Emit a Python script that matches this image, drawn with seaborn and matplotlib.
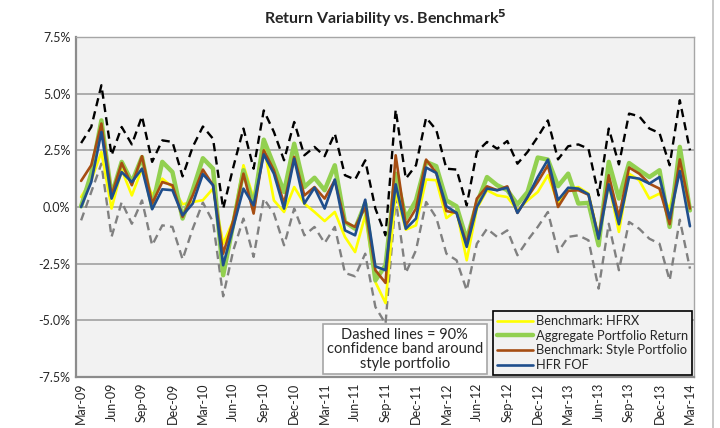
import matplotlib
matplotlib.use('Agg')
import matplotlib.pyplot as plt
from matplotlib.lines import Line2D
import pandas as pd
import seaborn as sns

# monthly returns in %, Mar-09 .. Mar-14
months = pd.date_range('2009-03-01', periods=61, freq='MS')

hfrx = [0.44, 1.18, 2.43, -0.07, 1.65, 0.51, 1.69, 0.51, 1.25, 0.88, 0.12, 0.22, 0.30, 0.81, -1.62, -0.59,
        1.84, 0.37, 2.72, 0.29, -0.22, 0.88, 0.15, -0.22, -0.62, -0.22, -1.32, -1.99, -0.37, -3.31, -4.24, 0.66,
        -1.00, -0.81, 1.21, 1.18, -0.49, -0.15, -2.35, -0.07, 0.74, 0.51, 0.44, -0.15, 0.29, 0.66, 1.40, 0.18,
        0.81, 0.88, 0.59, -1.32, 1.03, -1.10, 1.47, 1.18, 0.37, 0.59, -0.07, 1.91, -0.07]
aggregate = [0.03, 1.47, 3.82, 0.51, 1.99, 1.10, 2.20, 0.00, 1.99, 1.54, -0.51, 0.74, 2.15, 1.69, -3.01, -0.74,
             1.62, 0.07, 2.97, 1.84, 0.66, 2.79, 0.88, 1.29, 0.74, 1.84, -0.66, -0.96, 0.15, -3.24, -2.57, 1.47,
             -0.51, 0.29, 1.99, 1.80, 0.29, 0.03, -1.44, 0.15, 1.32, 0.96, 0.74, 0.12, 0.66, 2.18, 2.09, 0.92,
             1.47, 0.15, 0.18, -1.69, 1.99, 0.37, 1.94, 1.62, 1.32, 1.62, -0.88, 2.65, -0.15]
style = [1.15, 1.84, 3.68, 0.51, 1.94, 0.96, 2.24, 0.15, 1.10, 0.96, -0.44, 0.51, 1.65, 0.96, -2.06, -0.59,
         1.47, -0.29, 2.50, 1.62, 0.15, 2.21, 0.51, 0.88, 0.37, 1.18, -0.66, -0.88, 0.00, -2.79, -3.35, 2.28,
         -0.81, -0.07, 2.09, 1.50, -0.18, -0.26, -1.62, 0.37, 0.91, 0.74, 0.91, -0.26, 0.44, 1.10, 1.84, 0.00,
         0.71, 0.74, 0.54, -1.35, 1.40, -0.44, 1.74, 1.47, 1.03, 0.81, -0.76, 2.10, -0.07]
hfr_fof = [0.00, 1.10, 3.31, 0.37, 1.54, 1.10, 1.69, -0.10, 0.78, 0.74, -0.37, 0.15, 1.45, 0.96, -2.57, -0.88,
           0.81, 0.07, 2.32, 1.47, -0.07, 2.13, 0.15, 0.85, -0.07, 1.21, -1.03, -1.25, 0.32, -2.62, -2.79, 1.00,
           -0.96, -0.51, 1.74, 1.50, 0.03, -0.26, -1.76, 0.00, 0.81, 0.74, 0.85, -0.26, 0.44, 1.32, 2.09, 0.30,
           0.85, 0.81, 0.56, -1.40, 1.00, -0.76, 1.32, 1.25, 1.03, 1.32, -0.51, 1.59, -0.85]
band_upper = [2.82, 3.53, 5.37, 2.28, 3.53, 2.76, 4.00, 1.99, 2.94, 2.87, 1.35, 2.65, 3.55, 3.01, -0.07, 1.76,
              3.46, 1.69, 4.26, 3.31, 2.06, 3.75, 2.28, 2.65, 2.24, 3.24, 1.40, 1.21, 2.06, -0.07, -1.25, 4.29,
              1.25, 1.84, 3.94, 3.40, 1.69, 1.65, 0.07, 2.43, 2.87, 2.57, 2.91, 1.91, 2.43, 3.09, 3.82, 2.10,
              2.68, 2.76, 2.57, 0.51, 3.46, 1.88, 4.12, 4.00, 3.46, 3.26, 1.84, 4.71, 2.50]
band_lower = [-0.59, 0.66, 1.91, -1.32, 0.22, -0.74, 0.29, -1.69, -0.81, -0.88, -2.31, -0.96, 0.20, -0.66, -3.94, -1.91,
              -0.51, -2.20, 0.37, -0.29, -1.69, -0.07, -1.25, -0.88, -1.59, -0.88, -2.91, -3.06, -2.06, -4.41, -5.15, 0.37,
              -2.91, -1.91, 0.22, -0.47, -2.06, -2.35, -3.68, -1.62, -0.96, -1.32, -1.03, -2.13, -1.47, -0.88, -0.22, -1.99,
              -1.32, -1.25, -1.47, -3.60, -0.74, -2.79, -0.66, -0.96, -1.40, -1.62, -3.24, -0.56, -2.72]

yticks = [-7.5, -5.0, -2.5, 0.0, 2.5, 5.0, 7.5]

df = pd.DataFrame({'idx': range(len(months)), 'HFRX': hfrx, 'Aggregate': aggregate,
                   'Style': style, 'FOF': hfr_fof, 'Upper': band_upper, 'Lower': band_lower})

sns.set_style('white', {'axes.facecolor': '#F2F2F2'})
plt.rcParams['font.family'] = ['Lato', 'DejaVu Sans']

fig = plt.figure(figsize=(7.2, 4.28), dpi=100)
ax = fig.add_axes([0.1056, 0.1192, 0.8583, 0.7944])
ax.set_axisbelow(True)
ax.yaxis.grid(True, color='#9A9A9A', lw=1.1)

# confidence band
sns.lineplot(data=df, x='idx', y='Upper', color='black', lw=1.7, linestyle=(0, (3.5, 2.2)), ax=ax)
sns.lineplot(data=df, x='idx', y='Lower', color='#808080', lw=1.7, linestyle=(0, (3.5, 2.2)), ax=ax)

# series
sns.lineplot(data=df, x='idx', y='HFRX', color='#FFFF00', lw=1.9, label='Benchmark: HFRX', ax=ax)
sns.lineplot(data=df, x='idx', y='Aggregate', color='#92D050', lw=3.2, label='Aggregate Portfolio Return', ax=ax)
sns.lineplot(data=df, x='idx', y='Style', color='#A64D12', lw=1.9, label='Benchmark: Style Portfolio', ax=ax)
sns.lineplot(data=df, x='idx', y='FOF', color='#1F4E8C', lw=1.9, label='HFR FOF', ax=ax)

ax.set_xlim(-0.5, 60.4)
ax.set_ylim(-7.5, 7.5)
ax.set_yticks(yticks)
ax.set_yticklabels([f'{v:.1f}%' for v in yticks], fontsize=9)
ticks = list(range(0, len(months), 3))
ax.set_xticks(ticks)
ax.set_xticklabels([months[i].strftime('%b-%y') for i in ticks], rotation=90, fontsize=9)
ax.tick_params(axis='both', length=0, pad=4)
ax.set_xlabel('')
ax.set_ylabel('')

for side in ['top', 'right']:
    ax.spines[side].set_color('#A6A6A6')
    ax.spines[side].set_linewidth(1.0)
for side in ['left', 'bottom']:
    ax.spines[side].set_color('#8C8C8C')
    ax.spines[side].set_linewidth(1.6)

ax.set_title('Return Variability vs. Benchmark$^\\mathbf{5}$', fontsize=11.5, fontweight='bold', pad=9)

leg = ax.legend(loc='lower right', bbox_to_anchor=(0.996, 0.006), fontsize=9.3, frameon=True,
                fancybox=False, edgecolor='black', framealpha=1, handlelength=2.8,
                handletextpad=0.2, borderpad=0.3, labelspacing=0.2, borderaxespad=0)
leg.get_frame().set_linewidth(1.2)

ax.text(0.532, 0.082, 'Dashed lines = 90%\nconfidence band around\nstyle portfolio',
        transform=ax.transAxes, ha='center', va='center', fontsize=10.5, linespacing=1.05,
        bbox=dict(boxstyle='square,pad=0.25', fc='white', ec='#A6A6A6', lw=1.2))

fig.add_artist(Line2D([0.99, 0.99], [0, 1], transform=fig.transFigure, color='#BFBFBF', lw=1.2))

fig.savefig('out.png', dpi=100, facecolor='white')
